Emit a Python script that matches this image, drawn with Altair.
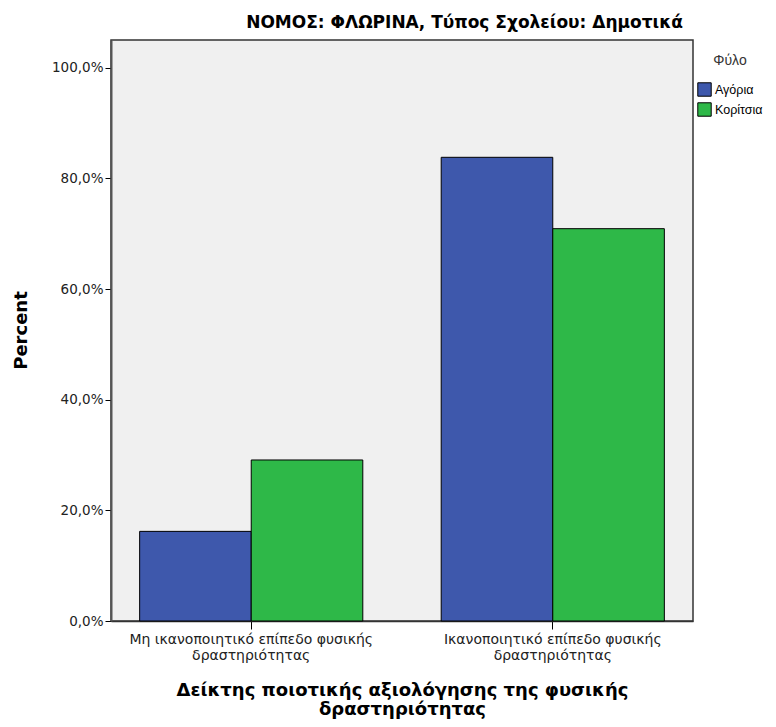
import altair as alt
import pandas as pd

categories = ["Μη ικανοποιητικό επίπεδο φυσικής δραστηριότητας",
              "Ικανοποιητικό επίπεδο φυσικής δραστηριότητας"]
genders = ["Αγόρια", "Κορίτσια"]
boys = [16.2, 83.8]
girls = [29.1, 70.9]
colors = ["#3E58AC", "#2EB848"]
y_ticks = [0, 20, 40, 60, 80, 100]

rows = []
for i, c in enumerate(categories):
    rows.append({"cat": c, "g": genders[0], "v": boys[i]})
    rows.append({"cat": c, "g": genders[1], "v": girls[i]})
df = pd.DataFrame(rows)

FONT = "DejaVu Sans"
LFONT = "Liberation Sans"

chart = alt.Chart(df).mark_bar(stroke="#000000", strokeWidth=1).encode(
    x=alt.X("cat:N", sort=categories,
            scale=alt.Scale(paddingInner=0.26, paddingOuter=0.095),
            axis=alt.Axis(
                title=["Δείκτης ποιοτικής αξιολόγησης της φυσικής", "δραστηριότητας"],
                titleFont=FONT, titleFontSize=18, titleFontWeight="bold",
                titleColor="#000000", titlePadding=19, titleLineHeight=19,
                labelFont=FONT, labelFontSize=14, labelColor="#222222",
                labelAngle=0, labelLineHeight=16, labelPadding=3, labelLimit=0,
                labelExpr="split(replace(datum.label, 'φυσικής ', 'φυσικής|'), '|')",
                tickColor="#000000", tickSize=8, domainColor="#333333",
                domainWidth=1.5, grid=False)),
    xOffset=alt.XOffset("g:N", sort=genders,
                        scale=alt.Scale(paddingInner=0, paddingOuter=0)),
    y=alt.Y("v:Q", scale=alt.Scale(domain=[0, 105], nice=False),
            axis=alt.Axis(
                title="Percent", titleFont=FONT, titleFontSize=18,
                titleFontWeight="bold", titleColor="#000000",
                titleAngle=-90, titleX=-90, titleY=290, titleAlign="center",
                titleBaseline="middle",
                values=y_ticks,
                labelExpr="replace(format(datum.value, '.1f'), '.', ',') + '%'",
                labelFont=FONT, labelFontSize=13.5, labelColor="#222222",
                tickColor="#000000", tickSize=6, domainColor="#555555",
                domainWidth=2, grid=False)),
    color=alt.Color("g:N", sort=genders,
                    scale=alt.Scale(domain=genders, range=colors),
                    legend=alt.Legend(
                        title="Φύλο", titleFont=LFONT, titleFontSize=14,
                        titleFontWeight="normal", titleColor="#333333",
                        titlePadding=14, titleAnchor="middle",
                        labelFont=LFONT, labelFontSize=12.5, labelColor="#000000",
                        symbolType="square", symbolSize=180,
                        symbolStrokeColor="#000000", symbolStrokeWidth=1,
                        symbolOpacity=1, labelOffset=3, rowPadding=1,
                        padding=0, orient="none", legendX=586, legendY=14)),
).properties(
    width=582, height=581,
    title=alt.TitleParams("ΝΟΜΟΣ: ΦΛΩΡΙΝΑ, Τύπος Σχολείου: Δημοτικά",
                          font=FONT, fontSize=17, fontWeight="bold",
                          color="#000000", anchor="end", frame="group",
                          dx=-10, offset=8),
    autosize=alt.AutoSizeParams(type="none"),
    padding={"left": 103, "top": 32, "right": 75, "bottom": 98},
    background="#FFFFFF",
).configure_view(
    fill="#F0F0F0", stroke="#333333", strokeWidth=1.5
)

chart.save("out.html", embed_options={"renderer": "svg", "actions": False})
